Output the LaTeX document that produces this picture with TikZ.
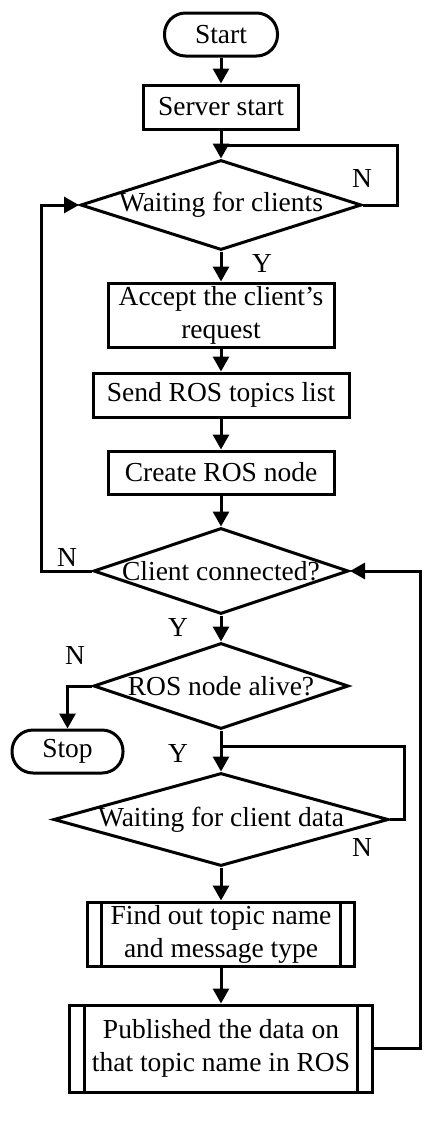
\documentclass[tikz,border=0pt]{standalone}
\usepackage{fontspec}
\setmainfont{Liberation Serif}
\usetikzlibrary{shapes.geometric,arrows.meta}
\begin{document}
\begin{tikzpicture}[x=1pt,y=-1pt]

      \tikzset{every node/.style={font=\fontsize{27.5}{33}\selectfont},
               lw/.style={line width=3pt},
               flow/.style={lw, -{Triangle[length=15pt,width=16pt]}},
               proc/.style={draw, lw, rectangle, align=center, inner sep=0pt},
               term/.style={proc, rounded corners=21pt},
               subproc/.style={proc, path picture={
                   \draw[lw] ([xshift=#1]path picture bounding box.north west) -- ([xshift=#1]path picture bounding box.south west)
                             ([xshift=-#1]path picture bounding box.north east) -- ([xshift=-#1]path picture bounding box.south east);}},
               decision/.style={draw, lw, diamond, inner sep=0pt}}
      \useasboundingbox (0,0) rectangle (425,1128);
%% Blocks
      	\node[term, minimum width=113pt, minimum height=43pt] (start) at (221,34.5) {Start};
      	\node[proc, minimum width=155pt, minimum height=44pt] (server) at (221,107) {Server start};
      	\node[decision, minimum width=281pt, minimum height=90pt] (d1) at (221,205) {\makebox[0pt]{Waiting for clients}};
      	\node[proc, minimum width=226pt, minimum height=64pt] (accept) at (221,315) {Accept the client’s\\request};
      	\node[proc, minimum width=256pt, minimum height=44pt] (send) at (221,395) {Send ROS topics list};
      	\node[proc, minimum width=226pt, minimum height=43pt] (create) at (221,472.5) {Create ROS node};
      	\node[decision, minimum width=255pt, minimum height=86pt] (d2) at (221,571) {\makebox[0pt]{Client connected?}};
      	\node[decision, minimum width=255pt, minimum height=86pt] (d3) at (221,686) {\makebox[0pt]{ROS node alive?}};
      	\node[term, minimum width=111pt, minimum height=43pt] (stop) at (67.5,751.5) {Stop};
      	\node[decision, minimum width=335pt, minimum height=93pt] (d4) at (221,819.5) {\makebox[0pt]{Waiting for client data}};
      	\node[subproc=14pt, minimum width=267pt, minimum height=64pt] (find) at (221,934) {Find out topic name\\and message type};
      	\node[subproc=15pt, minimum width=303pt, minimum height=87pt] (publish) at (221,1048.5) {Published the data on\\that topic name in ROS};
%Labels
      	\node (n1) at (362,178) {N};
      	\node (y1) at (262,263) {Y};
      	\node (n2) at (67,557) {N};
      	\node (y2) at (178,627) {Y};
      	\node (n3) at (75,655) {N};
      	\node (y3) at (178,753) {Y};
      	\node (n4) at (362,847) {N};
%Corners
      	\coordinate (j1) at (221,145);
      	\coordinate (r1) at (397,145);
      	\coordinate (l1) at (41,571);
      	\coordinate (j2) at (221,746);
      	\coordinate (r2) at (404,746);
      	\coordinate (r3) at (420,571);
%Edges
		\path (start) edge[flow] (server);
		\path (server) edge[flow] (d1);
		\path (d1) edge[flow] (accept);
		\path (accept) edge[flow] (send);
		\path (send) edge[flow] (create);
		\path (create) edge[flow] (d2);
		\path (d2) edge[flow] (d3);
		\path (d3) edge[flow] (d4);
		\path (d4) edge[flow] (find);
		\path (find) edge[flow] (publish);
		\draw[lw] (d1.east) -| (r1) -- (j1);
		\draw[flow] (d2.west) -- (l1) |- (d1.west);
		\draw[flow] (d3.west) -| (stop.north);
		\draw[lw] (d4.east) -| (r2) -- (j2);
		\draw[flow] (publish.east) -| (r3) -- (d2.east);

	\end{tikzpicture}
\end{document}
